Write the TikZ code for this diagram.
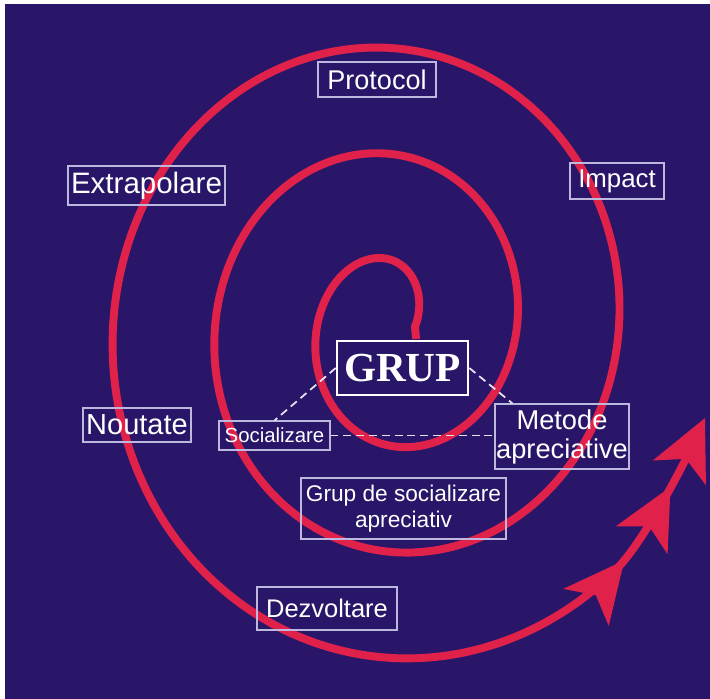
\documentclass[tikz,border=0pt]{standalone}
\usepackage{fontspec}
\setmainfont{Liberation Sans}
\newfontfamily\grupfont{Liberation Serif}
\usetikzlibrary{arrows.meta,decorations.markings}
\definecolor{bgblue}{HTML}{291669}
\definecolor{spired}{HTML}{E0224B}
\definecolor{boxline}{HTML}{BDB8DE}
\tikzset{>={Stealth[length=1.2cm,width=1.15cm,inset=0.3cm]}}
\tikzset{lbl/.style={draw=boxline, line width=0.6pt, text=white, inner sep=0pt, align=center},
  dashline/.style={draw=boxline!40!white, line width=1pt, dash pattern=on 4.5pt off 2.8pt}}

\begin{document}
\begin{tikzpicture}[x=0.02cm,y=-0.02cm]
  \useasboundingbox (0,0) rectangle (710,699);
  \fill[bgblue] (5,4) rectangle (710,699);
  % spiral
  \draw[spired, line width=4.5pt, ->, postaction={decorate},
    decoration={markings, mark=at position -3.28cm with {\arrow{>}}, mark=at position -1.54cm with {\arrow{>}}}]
    (416,339) -- plot[domain=0:1035, samples=260, smooth] ({391.5+(23.5+0.2833*\x)*cos(\x)}, {326.5-(40+0.2944*\x)*sin(\x)})
    .. controls (644,542) and (684,463) .. (705,418);
  % labels
  \node[lbl, minimum width=2.36cm, minimum height=0.7cm, font=\fontsize{15.4}{18}\selectfont] (prot) at (377,79.5) {Protocol};
  \node[lbl, minimum width=3.14cm, minimum height=0.78cm, font=\fontsize{16.8}{19}\selectfont] (extra) at (146.5,185.5) {Extrapolare};
  \node[lbl, minimum width=1.88cm, minimum height=0.72cm, font=\fontsize{14.7}{17}\selectfont] (imp) at (617,181) {Impact};
  \node[lbl, minimum width=2.16cm, minimum height=0.68cm, font=\fontsize{16.5}{19}\selectfont] (nou) at (137,425) {Noutate};
  \node[lbl, minimum width=2.22cm, minimum height=0.58cm, font=\fontsize{11.6}{14}\selectfont] (soc) at (274.5,435.5) {Socializare};
  \node[lbl, minimum width=2.68cm, minimum height=1.3cm, font=\fontsize{15.5}{16.5}\selectfont] (met) at (562,436.5) {Metode\\apreciative};
  \node[lbl, minimum width=4.1cm, minimum height=1.22cm, font=\fontsize{12.9}{14.8}\selectfont] (gsa) at (403.5,508.5) {Grup de socializare\\apreciativ};
  \node[lbl, minimum width=2.8cm, minimum height=0.86cm, font=\fontsize{14.5}{17}\selectfont] (dez) at (327,608.5) {Dezvoltare};
  \node[draw=white, line width=1.5pt, text=white, inner sep=0pt, minimum width=2.62cm, minimum height=1.08cm,
    font=\grupfont\bfseries\fontsize{23.5}{28}\selectfont] (grup) at (402.5,368) {GRUP};
  % dashed links
  \draw[dashline] (grup.west) -- (soc.north);
  \draw[dashline] (grup.east) -- ([xshift=0.36cm]met.north west);
  \draw[dashline] (soc.east) -- (soc.east -| met.west);
\end{tikzpicture}
\end{document}
